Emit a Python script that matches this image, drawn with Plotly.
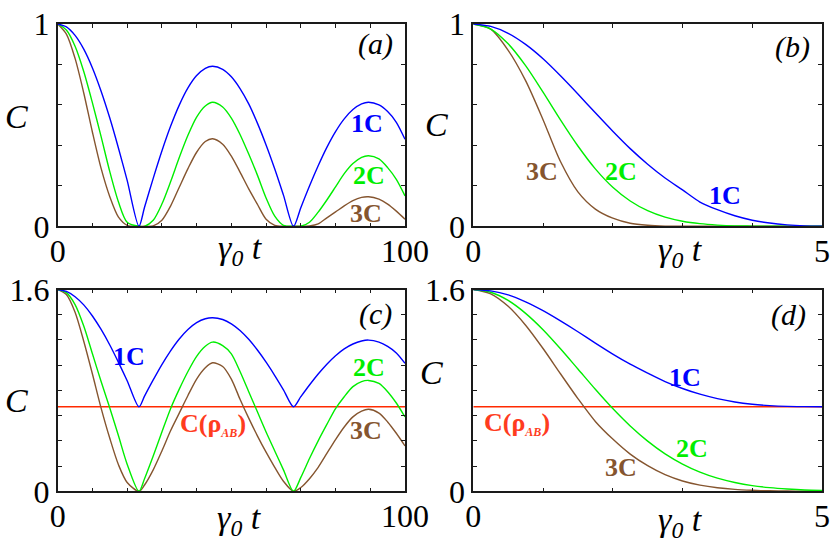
import plotly.graph_objects as go
from plotly.subplots import make_subplots

# time grids
t_osc = [0, 2.5, 5, 7.5, 10, 12.5, 15, 17.5, 20, 23.4, 25, 27.5, 30, 32.5, 35, 37.5, 40, 42.5, 44.6,
         47.5, 50, 52.5, 55, 57.5, 60, 62.5, 65, 67.9, 70, 72.5, 75, 77.5, 80, 82.5, 85, 87.5, 89.5,
         92.5, 95, 97.5, 100]
t_dec = [0, 0.25, 0.5, 0.75, 1, 1.25, 1.5, 1.75, 2, 2.25, 2.5, 2.75, 3, 3.25, 3.5, 3.75, 4, 4.25,
         4.5, 4.75, 5]

# (a) oscillating concurrence
a_1c = [1.0, 0.986, 0.944, 0.876, 0.783, 0.668, 0.535, 0.386, 0.227, 0.0, 0.094, 0.237, 0.372, 0.494,
        0.599, 0.684, 0.745, 0.781, 0.791, 0.776, 0.739, 0.681, 0.605, 0.510, 0.402, 0.283, 0.154, 0.0,
        0.092, 0.199, 0.299, 0.390, 0.468, 0.531, 0.577, 0.605, 0.613, 0.600, 0.567, 0.514, 0.430]
a_2c = [1.0, 0.97, 0.89, 0.765, 0.61, 0.443, 0.27, 0.12, 0.02, 0.0, 0.0, 0.03, 0.11, 0.22, 0.34, 0.45,
        0.54, 0.595, 0.613, 0.59, 0.535, 0.454, 0.357, 0.253, 0.14, 0.05, 0.005, 0.0, 0.0, 0.02, 0.07,
        0.13, 0.195, 0.26, 0.31, 0.341, 0.349, 0.333, 0.29, 0.232, 0.15]
a_3c = [1.0, 0.95, 0.83, 0.659, 0.465, 0.286, 0.146, 0.045, 0.005, 0.0, 0.0, 0.002, 0.03, 0.10, 0.193,
        0.285, 0.366, 0.419, 0.433, 0.406, 0.347, 0.268, 0.185, 0.109, 0.035, 0.005, 0.0, 0.0, 0.0,
        0.002, 0.012, 0.042, 0.071, 0.101, 0.127, 0.143, 0.146, 0.134, 0.11, 0.075, 0.035]

# (b) decaying concurrence
b_1c = [1.0, 0.988, 0.954, 0.899, 0.828, 0.744, 0.654, 0.561, 0.470, 0.384, 0.307, 0.239, 0.18, 0.12,
        0.082, 0.052, 0.03, 0.016, 0.007, 0.002, 0.0]
b_2c = [1.0, 0.975, 0.902, 0.794, 0.663, 0.526, 0.397, 0.284, 0.193, 0.125, 0.077, 0.045, 0.025, 0.013,
        0.006, 0.002, 0.001, 0.0, 0.0, 0.0, 0.0]
b_3c = [1.0, 0.975, 0.87, 0.72, 0.527, 0.32, 0.17, 0.085, 0.04, 0.015, 0.005, 0.001, 0.0, 0.0, 0.0,
        0.0, 0.0, 0.0, 0.0, 0.0, 0.0]

# (c)
c_1c = [1.6, 1.585, 1.543, 1.478, 1.390, 1.283, 1.160, 1.022, 0.877, 0.67, 0.755, 0.883, 1.005, 1.114,
        1.208, 1.283, 1.337, 1.368, 1.376, 1.362, 1.328, 1.275, 1.205, 1.120, 1.024, 0.918, 0.805, 0.67,
        0.750, 0.843, 0.930, 1.008, 1.075, 1.129, 1.168, 1.192, 1.199, 1.183, 1.149, 1.097, 1.015]
c_2c = [1.6, 1.575, 1.48, 1.31, 1.09, 0.87, 0.66, 0.44, 0.215, 0.0, 0.10, 0.28, 0.47, 0.655, 0.81, 0.95,
        1.07, 1.15, 1.183, 1.155, 1.09, 0.95, 0.79, 0.63, 0.47, 0.32, 0.17, 0.0, 0.11, 0.26, 0.40, 0.53,
        0.655, 0.75, 0.83, 0.87, 0.879, 0.855, 0.79, 0.70, 0.589]
c_3c = [1.6, 1.56, 1.42, 1.19, 0.93, 0.66, 0.42, 0.21, 0.07, 0.0, 0.05, 0.17, 0.32, 0.48, 0.62, 0.76,
        0.89, 0.98, 1.019, 0.99, 0.89, 0.73, 0.58, 0.44, 0.31, 0.19, 0.08, 0.0, 0.03, 0.10, 0.19, 0.30,
        0.41, 0.51, 0.59, 0.635, 0.65, 0.62, 0.55, 0.46, 0.36]

# (d)
d_1c = [1.6, 1.589, 1.557, 1.502, 1.432, 1.351, 1.265, 1.175, 1.088, 1.008, 0.937, 0.87, 0.815, 0.77,
        0.735, 0.708, 0.69, 0.679, 0.673, 0.671, 0.67]
d_2c = [1.6, 1.578, 1.513, 1.411, 1.281, 1.130, 0.970, 0.809, 0.656, 0.518, 0.398, 0.297, 0.216, 0.152,
        0.104, 0.07, 0.045, 0.029, 0.018, 0.01, 0.006]
d_3c = [1.6, 1.566, 1.467, 1.317, 1.132, 0.932, 0.735, 0.554, 0.414, 0.295, 0.203, 0.132, 0.082, 0.049,
        0.028, 0.015, 0.008, 0.004, 0.002, 0.001, 0.0]

c_rho_ab = 0.67

BLUE = "#0000ff"
GREEN = "#00ee00"
BROWN = "#85552f"
RED = "#ff2a00"
LBL_RED = "#ff3c1e"
FRAME = "#1a1a1a"
SERIF = "Liberation Serif, Times New Roman, DejaVu Serif, serif"

fig = make_subplots(rows=2, cols=2)

panels = [
    (1, 1, t_osc, a_1c, a_2c, a_3c, False),
    (1, 2, t_dec, b_1c, b_2c, b_3c, False),
    (2, 1, t_osc, c_1c, c_2c, c_3c, True),
    (2, 2, t_dec, d_1c, d_2c, d_3c, True),
]
for row, col, t, y1, y2, y3, with_rho in panels:
    if with_rho:
        fig.add_trace(go.Scatter(x=[t[0], t[-1]], y=[c_rho_ab, c_rho_ab], mode="lines",
                                 line=dict(color=RED, width=1.4)), row=row, col=col)
    for y, color in [(y3, BROWN), (y2, GREEN), (y1, BLUE)]:
        fig.add_trace(go.Scatter(x=t, y=y, mode="lines",
                                 line=dict(color=color, width=1.4, shape="spline", smoothing=0.8)),
                      row=row, col=col)

# axes
x_left = [57.7 / 831, 405 / 831]
x_right = [473.3 / 831, 822 / 831]
y_top = [(545 - 226.3) / 545, (545 - 24) / 545]
y_bot = [(545 - 491.3) / 545, (545 - 289.5) / 545]

axis_style = dict(showline=True, linecolor=FRAME, linewidth=1.6, mirror="ticks", ticks="inside",
                  ticklen=4, tickwidth=1.2, tickcolor=FRAME, showgrid=False, zeroline=False,
                  automargin=False, tickfont=dict(family=SERIF, size=32, color="black"))

osc_ticks = [0, 10, 20, 30, 40, 50, 60, 70, 80, 90, 100]
osc_text = ["0"] + [""] * 9 + ["100"]
dec_ticks = [0, 1, 2, 3, 4, 5]
dec_text = ["0", "", "", "", "", "5"]
one_ticks = [0, 0.2, 0.4, 0.6, 0.8, 1.0]
one_text = ["0", "", "", "", "", "1"]
big_ticks = [0, 0.2, 0.4, 0.6, 0.8, 1.0, 1.2, 1.4, 1.6]
big_text = ["0", "", "", "", "", "", "", "", "1.6"]

fig.update_xaxes(**axis_style, ticklabelstandoff=-5)
fig.update_yaxes(**axis_style)
fig.update_layout(
    xaxis=dict(domain=x_left, range=[0, 100], tickvals=osc_ticks, ticktext=osc_text),
    yaxis=dict(domain=y_top, range=[0, 1], tickvals=one_ticks, ticktext=one_text),
    xaxis2=dict(domain=x_right, range=[0, 5], tickvals=dec_ticks, ticktext=dec_text),
    yaxis2=dict(domain=y_top, range=[0, 1], tickvals=one_ticks, ticktext=one_text),
    xaxis3=dict(domain=x_left, range=[0, 100], tickvals=osc_ticks, ticktext=osc_text),
    yaxis3=dict(domain=y_bot, range=[0, 1.6], tickvals=big_ticks, ticktext=big_text),
    xaxis4=dict(domain=x_right, range=[0, 5], tickvals=dec_ticks, ticktext=dec_text),
    yaxis4=dict(domain=y_bot, range=[0, 1.6], tickvals=big_ticks, ticktext=big_text),
)

# curve labels
def label(text, x, y, ref, color, size=26, bold=True, italic=False):
    if bold:
        text = "<b>" + text + "</b>"
    if italic:
        text = "<i>" + text + "</i>"
    fig.add_annotation(text=text, x=x, y=y, xref="x" + ref, yref="y" + ref, showarrow=False,
                       xanchor="center", yanchor="middle",
                       font=dict(family=SERIF, size=size, color=color))

rho_ab = "C(ρ<sub><span style='font-size:12px'><i>AB</i></span></sub>)"

label("1C", 89.1, 0.51, "", BLUE)
label("2C", 89.5, 0.251, "", GREEN)
label("3C", 88.8, 0.061, "", BROWN)
label("(a)", 91.6, 0.90, "", "black", size=30, bold=False, italic=True)

label("3C", 0.98, 0.27, "2", BROWN)
label("2C", 2.12, 0.27, "2", GREEN)
label("1C", 3.61, 0.15, "2", BLUE)
label("(b)", 4.58, 0.886, "2", "black", size=30, bold=False, italic=True)

label("1C", 20.5, 1.071, "3", BLUE)
label(rho_ab, 44.6, 0.53, "3", LBL_RED)
label("2C", 89.7, 0.978, "3", GREEN)
label("3C", 88.8, 0.483, "3", BROWN)
label("(c)", 91.4, 1.406, "3", "black", size=30, bold=False, italic=True)

label("1C", 3.04, 0.904, "4", BLUE)
label(rho_ab, 0.63, 0.535, "4", LBL_RED)
label("2C", 3.14, 0.336, "4", GREEN)
label("3C", 2.12, 0.186, "4", BROWN)
label("(d)", 4.52, 1.394, "4", "black", size=30, bold=False, italic=True)

# axis titles
for px, py in [(240, 250), (680, 252), (239.5, 520), (680, 522)]:
    fig.add_annotation(text="<i>γ<sub>0</sub> t</i>", x=px / 831, y=1 - py / 545, xref="paper",
                       yref="paper", xanchor="center", yanchor="middle", showarrow=False,
                       font=dict(family=SERIF, size=34, color="black"))
for px, py in [(16, 116), (437, 125), (16, 400), (431, 372)]:
    fig.add_annotation(text="<i>C</i>", x=px / 831, y=1 - py / 545, xref="paper", yref="paper",
                       xanchor="center", yanchor="middle", showarrow=False,
                       font=dict(family=SERIF, size=34, color="black"))

fig.update_layout(width=831, height=545, margin=dict(l=0, r=0, t=0, b=0), showlegend=False,
                  plot_bgcolor="white", paper_bgcolor="white")

# the page body has a default 8px margin; drop it so the figure sits at the corner
fig.write_html("out.html", config={"displayModeBar": False},
               post_script="document.body.style.margin='0px';")
